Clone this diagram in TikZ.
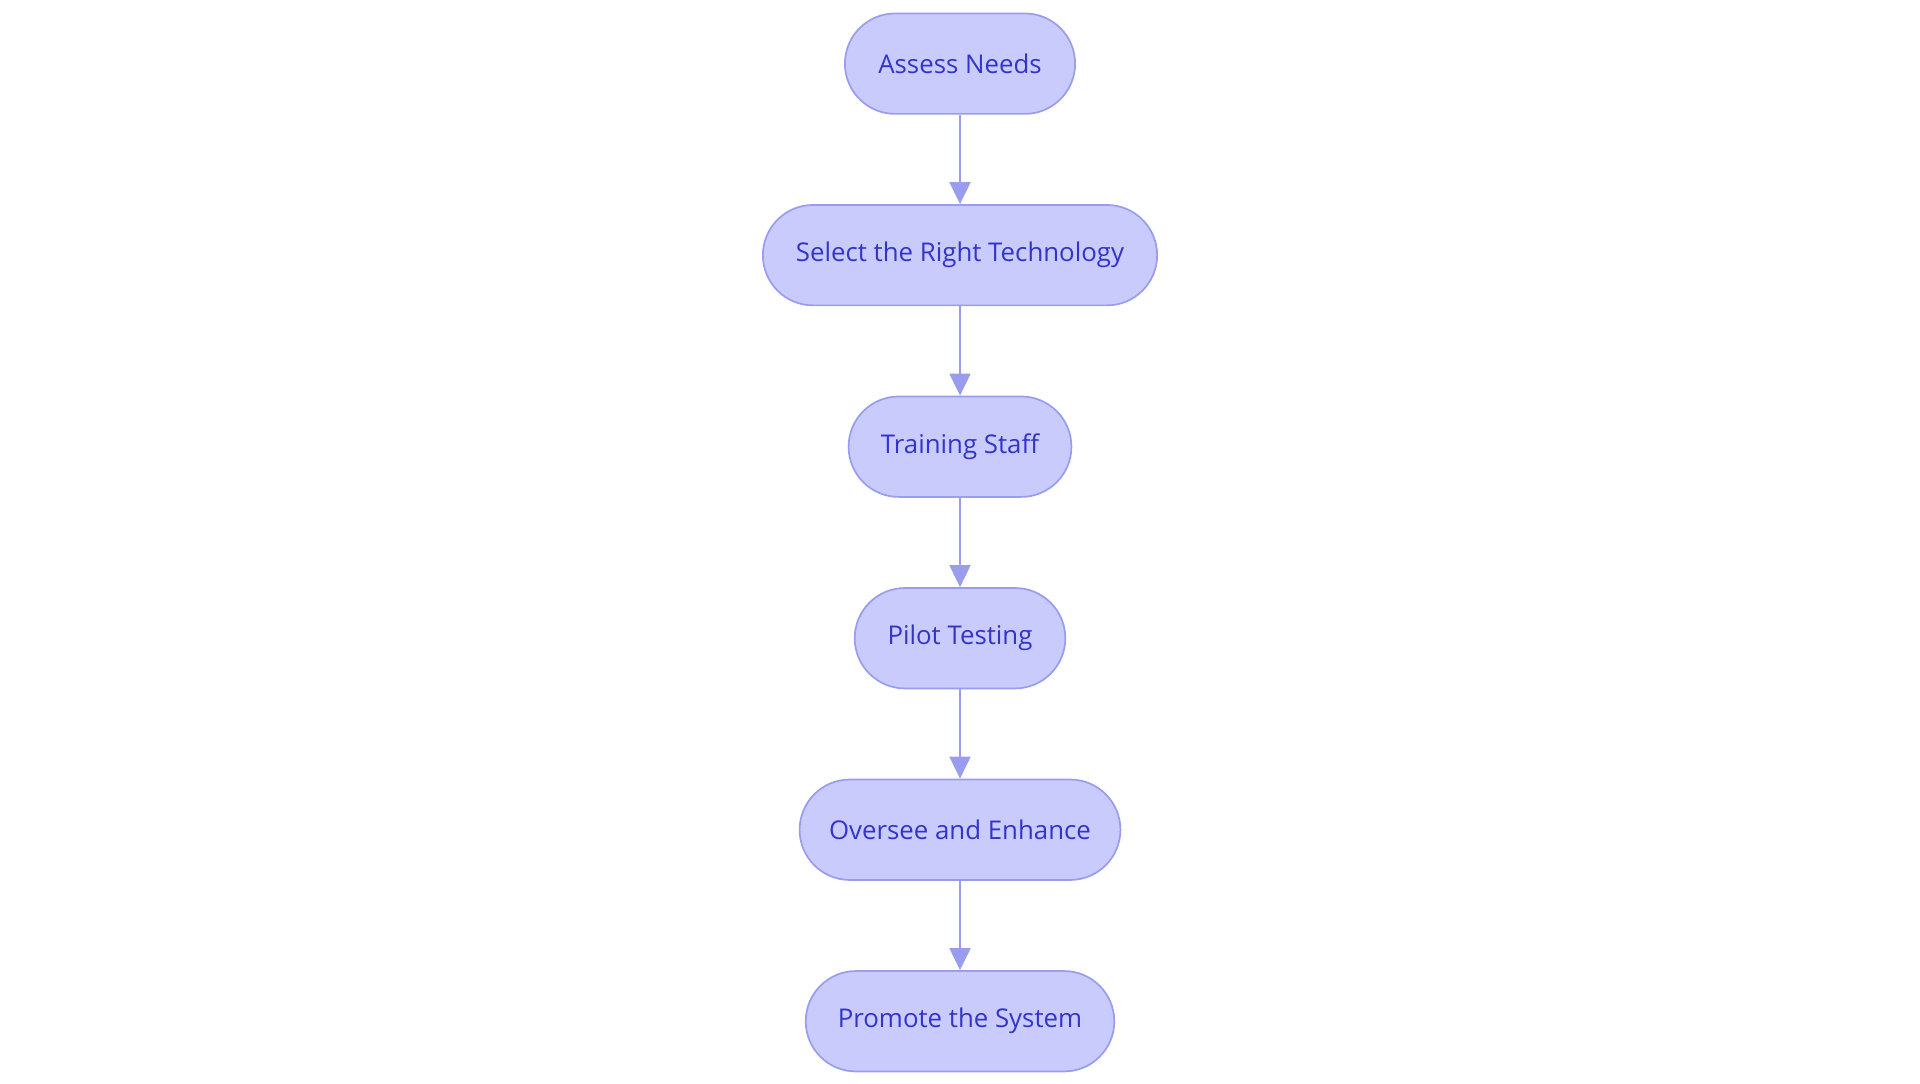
\documentclass[tikz,border=0pt]{standalone}
\usepackage{fontspec}
\setmainfont{Open Sans}
\usetikzlibrary{positioning,arrows.meta}
\definecolor{stepfill}{HTML}{C9CBFD}
\definecolor{stepline}{HTML}{9A9DEE}
\definecolor{steptext}{HTML}{3434C8}
\begin{document}
\begin{tikzpicture}[
stage/.style={rectangle,draw=stepline,fill=stepfill,text=steptext,line width=0.4pt,rounded corners=0.41cm,minimum height=0.82cm,inner sep=0pt,font=\fontsize{6}{7}\selectfont},
edge/.style={draw=stepline,line width=0.6pt,-{Triangle[length=0.18cm,width=0.17cm]}},
node distance=0.73cm]

\useasboundingbox (0,0) rectangle (15.68,-8.845);

\node (ASSESS) at (7.84,-0.52) [stage,minimum width=1.88cm] {Assess Needs};
\node (SELECT) [stage,below=of ASSESS,minimum width=3.22cm] {Select the Right Technology};
\node (TRAIN) [stage,below=of SELECT,minimum width=1.82cm] {Training Staff};
\node (PILOT) [stage,below=of TRAIN,minimum width=1.72cm] {Pilot Testing};
\node (OVERSEE) [stage,below=of PILOT,minimum width=2.62cm] {Oversee and Enhance};
\node (PROMOTE) [stage,below=of OVERSEE,minimum width=2.52cm] {Promote the System};

\draw[edge] (ASSESS) -- (SELECT);
\draw[edge] (SELECT) -- (TRAIN);
\draw[edge] (TRAIN) -- (PILOT);
\draw[edge] (PILOT) -- (OVERSEE);
\draw[edge] (OVERSEE) -- (PROMOTE);

\end{tikzpicture}
\end{document}
